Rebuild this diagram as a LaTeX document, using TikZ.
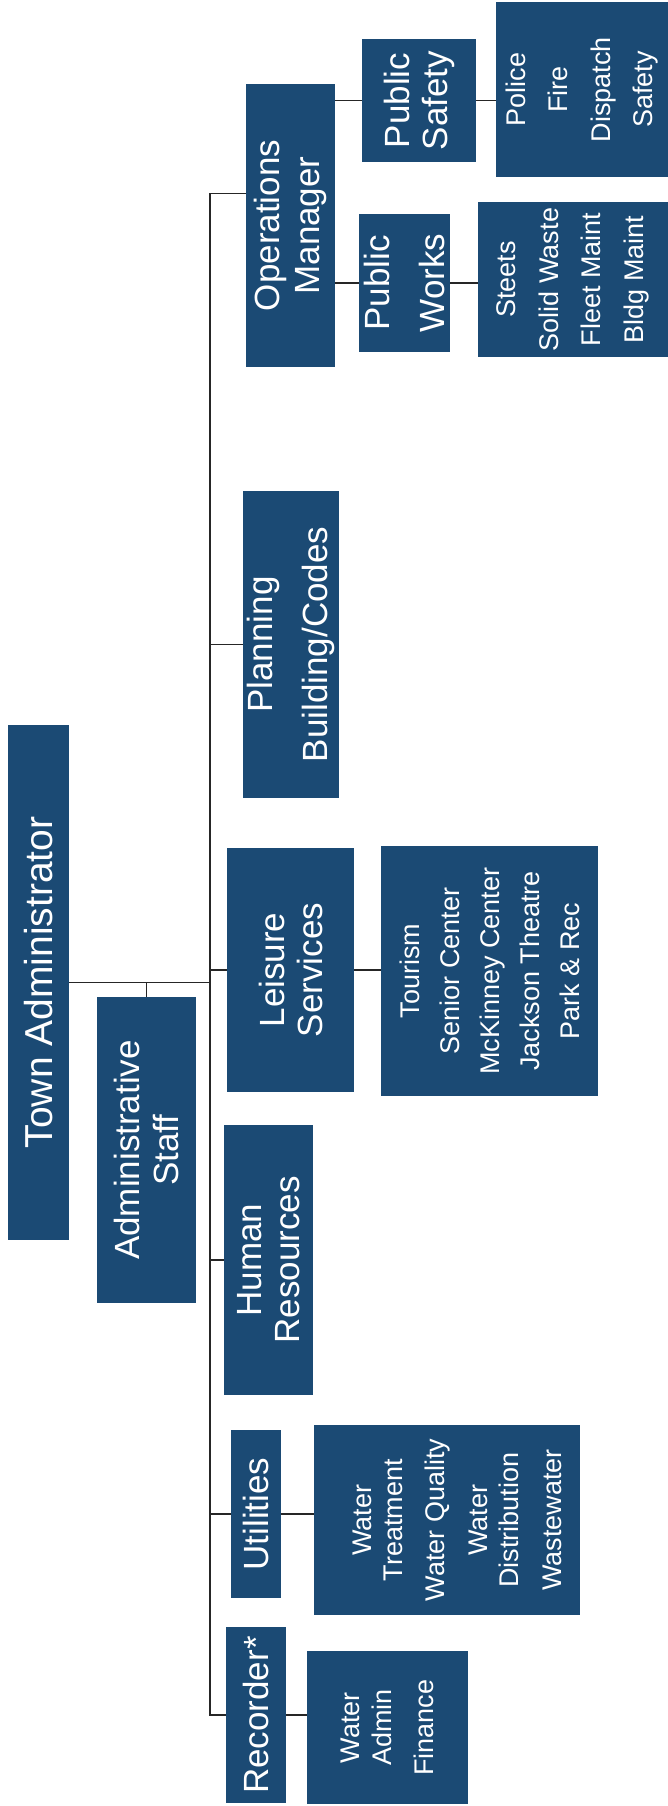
\documentclass[tikz,border=0pt]{standalone}
\usepackage{fontspec}
\setmainfont{Liberation Sans}
\usepackage[HTML]{xcolor}
\usepackage{tikz}
\usetikzlibrary{positioning}
\definecolor{chartblue}{HTML}{1B4A74}

\begin{document}
\begin{tikzpicture}[x=1pt, y=-1pt,
  dept/.style={fill=chartblue, text=white, rotate=90, inner sep=0pt, align=center,
    font=\fontsize{35}{40}\selectfont},
  sub/.style={dept, font=\fontsize{27}{42.6}\selectfont},
  link/.style={draw=black!85, line width=1.7pt}]
\useasboundingbox (0,0) rectangle (668,1806);
% head and staff
\node[dept, minimum width=515pt, minimum height=61pt, font=\fontsize{39}{44}\selectfont] (TA) at (38.5,982.5) {Town Administrator};
\node[dept, minimum width=306pt, minimum height=99pt] (AS) at (146.5,1150) {Administrative\\[-1pt]Staff};
% departments
\node[dept, minimum width=283pt, minimum height=89pt] (OM) at (290.5,225.5) {Operations\\Manager};
\node[dept, minimum width=307pt, minimum height=96pt] (PL) at (291,644.5) {Planning\\[15pt]Building/Codes};
\node[dept, minimum width=244pt, minimum height=127pt] (LS) at (290.5,970) {Leisure\\[-2pt]Services};
\node[dept, minimum width=270pt, minimum height=89pt] (HR) at (268.5,1260) {Human\\[-2pt]Resources};
\node[dept, minimum width=168pt, minimum height=50pt] (UT) at (256,1514) {Utilities};
\node[dept, minimum width=176pt, minimum height=60pt] (RE) at (256,1715) {Recorder*};
% under operations
\node[dept, minimum width=123pt, minimum height=114pt] (PS) at (419,100.5) {Public\\[-2pt]Safety};
\node[dept, minimum width=138pt, minimum height=91pt] (PW) at (404.5,283) {Public\\[15pt]Works};
% lists of divisions
\node[sub, minimum width=175pt, minimum height=172pt] (PO) at (582,89.5) {Police\\Fire\\Dispatch\\Safety};
\node[sub, minimum width=155pt, minimum height=190pt] (ST) at (573,279.5) {Steets\\Solid Waste\\Fleet Maint\\Bldg Maint};
\node[sub, minimum width=250pt, minimum height=217pt, font=\fontsize{27}{40}\selectfont] (TR) at (489.5,971) {Tourism\\Senior Center\\McKinney Center\\Jackson Theatre\\Park \& Rec};
\node[sub, minimum width=190pt, minimum height=266pt] (WT) at (447,1520) {\mbox{}\\[-4pt]Water\\[-11.6pt]Treatment\\Water Quality\\Water\\[-11.6pt]Distribution\\Wastewater};
\node[sub, minimum width=153pt, minimum height=161pt] (WA) at (387.5,1727.5) {Water\\[-10.6pt]Admin\\Finance};
% connectors
\coordinate (spine) at (210,0);
\coordinate (omtick) at ([yshift=32pt]OM.north);
\draw[link] (omtick) -| (spine |- RE.north) -- (RE.north);
\draw[link] (TA.south) -- (TA.south -| spine);
\draw[link] (AS.east) -- (AS.east |- TA.south);
\foreach \d in {PL,LS,HR,UT}
  \draw[link] (\d.north -| spine) -- (\d.north);
\draw[link] (OM.south |- PS.north) -- (PS.north);
\draw[link] (OM.south |- PW.north) -- (PW.north);
\draw[link] (PS.south) -- (PS.south -| PO.north);
\draw[link] (PW.south) -- (PW.south -| ST.north);
\draw[link] (LS.south) -- (LS.south -| TR.north);
\draw[link] (UT.south) -- (UT.south -| WT.north);
\draw[link] (RE.south) -- (RE.south -| WA.north);
\end{tikzpicture}
\end{document}
